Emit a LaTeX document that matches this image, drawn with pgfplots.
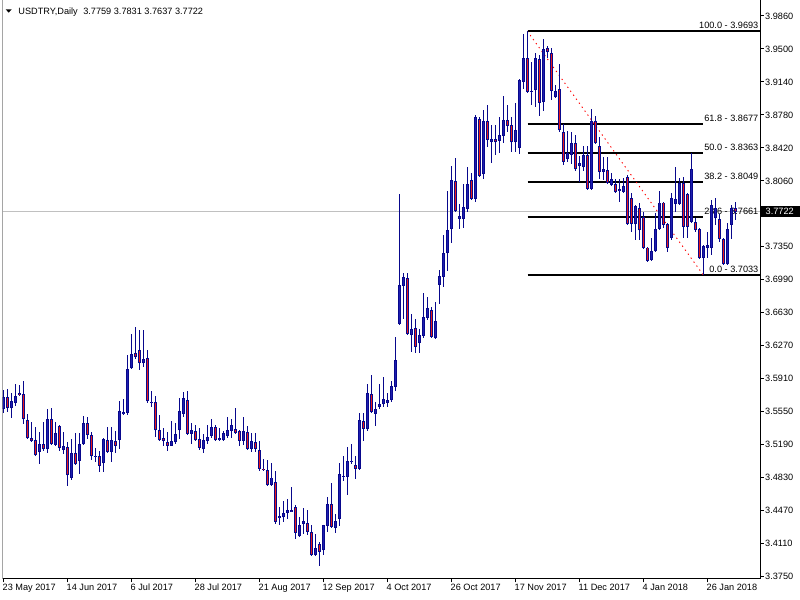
\documentclass[border=0pt]{standalone}
\usepackage{pgfplots}
\pgfplotsset{compat=1.18}
\usepackage{pgfplotstable}
\usepackage{fontspec}
\setmainfont{Liberation Sans}

\definecolor{candleedge}{RGB}{8,8,140}
\definecolor{bullfill}{RGB}{30,30,175}
\definecolor{bearfill}{RGB}{235,25,25}
\definecolor{priceline}{RGB}{192,192,192}

% USDTRY daily bars: index, open, high, low, close
\pgfplotstableread{
i o h l c
0 3.5568 3.5779 3.5525 3.5699
1 3.5699 3.5790 3.5543 3.5579
2 3.5579 3.5743 3.5477 3.5659
3 3.5641 3.5841 3.5604 3.5710
4 3.5746 3.5834 3.5714 3.5725
5 3.5735 3.5877 3.5405 3.5459
6 3.5452 3.5517 3.5245 3.5252
7 3.5255 3.5430 3.5215 3.5219
8 3.5234 3.5379 3.5063 3.5066
9 3.5099 3.5321 3.4975 3.5190
10 3.5190 3.5430 3.5117 3.5132
11 3.5132 3.5575 3.5095 3.5463
12 3.5463 3.5586 3.5179 3.5186
13 3.5179 3.5430 3.5168 3.5306
14 3.5386 3.5394 3.5117 3.5143
15 3.5128 3.5321 3.5085 3.5168
16 3.5157 3.5212 3.4735 3.4848
17 3.4823 3.5248 3.4801 3.5092
18 3.5092 3.5306 3.4965 3.4968
19 3.5001 3.5306 3.4866 3.5190
20 3.5186 3.5495 3.5183 3.5419
21 3.5419 3.5484 3.5241 3.5285
22 3.5285 3.5321 3.5015 3.5055
23 3.5052 3.5146 3.4997 3.5063
24 3.5059 3.5114 3.4885 3.4954
25 3.4979 3.5252 3.4888 3.5245
26 3.5234 3.5379 3.5088 3.5103
27 3.5106 3.5379 3.4997 3.5234
28 3.5223 3.5332 3.5088 3.5165
29 3.5230 3.5663 3.5139 3.5550
30 3.5514 3.5681 3.5510 3.5539
31 3.5532 3.6161 3.5506 3.6008
32 3.6015 3.6390 3.6008 3.6172
33 3.6183 3.6470 3.6117 3.6135
34 3.6215 3.6434 3.5997 3.6070
35 3.6070 3.6434 3.6034 3.6117
36 3.6125 3.6215 3.5634 3.5655
37 3.5634 3.5772 3.5590 3.5648
38 3.5648 3.5717 3.5270 3.5339
39 3.5343 3.5506 3.5226 3.5230
40 3.5255 3.5368 3.5172 3.5219
41 3.5212 3.5317 3.5110 3.5172
42 3.5168 3.5441 3.5165 3.5223
43 3.5208 3.5423 3.5186 3.5299
44 3.5339 3.5692 3.5248 3.5546
45 3.5521 3.5761 3.5488 3.5692
46 3.5670 3.5768 3.5288 3.5303
47 3.5303 3.5415 3.5186 3.5343
48 3.5332 3.5397 3.5223 3.5230
49 3.5244 3.5361 3.5124 3.5150
50 3.5132 3.5295 3.5095 3.5234
51 3.5219 3.5397 3.5190 3.5266
52 3.5281 3.5466 3.5259 3.5372
53 3.5375 3.5397 3.5223 3.5230
54 3.5237 3.5361 3.5226 3.5252
55 3.5230 3.5332 3.5223 3.5306
56 3.5274 3.5481 3.5259 3.5339
57 3.5335 3.5459 3.5255 3.5394
58 3.5354 3.5583 3.5295 3.5306
59 3.5332 3.5343 3.5172 3.5226
60 3.5226 3.5481 3.5179 3.5332
61 3.5321 3.5386 3.5135 3.5139
62 3.5139 3.5306 3.5103 3.5223
63 3.5212 3.5314 3.5106 3.5139
64 3.5124 3.5223 3.4899 3.4921
65 3.4921 3.5026 3.4895 3.4910
66 3.4906 3.5015 3.4728 3.4739
67 3.4739 3.4979 3.4735 3.4823
68 3.4772 3.4895 3.4317 3.4343
69 3.4386 3.4506 3.4306 3.4405
70 3.4390 3.4572 3.4335 3.4434
71 3.4441 3.4590 3.4375 3.4470
72 3.4452 3.4721 3.4444 3.4470
73 3.4503 3.4521 3.4150 3.4223
74 3.4183 3.4397 3.4179 3.4306
75 3.4314 3.4492 3.4212 3.4350
76 3.4328 3.4470 3.4197 3.4234
77 3.4226 3.4306 3.3972 3.3975
78 3.3975 3.4208 3.3972 3.4055
79 3.4099 3.4124 3.3863 3.4015
80 3.4030 3.4310 3.3975 3.4306
81 3.4299 3.4615 3.4230 3.4532
82 3.4532 3.4761 3.4284 3.4288
83 3.4277 3.4423 3.4215 3.4350
84 3.4375 3.4979 3.4299 3.4863
85 3.4834 3.5059 3.4786 3.4841
86 3.4834 3.5154 3.4634 3.5001
87 3.4994 3.5190 3.4972 3.5008
88 3.4961 3.5059 3.4808 3.4921
89 3.4917 3.5524 3.4906 3.5448
90 3.5441 3.5532 3.5226 3.5357
91 3.5357 3.5845 3.5335 3.5746
92 3.5732 3.5943 3.5525 3.5535
93 3.5521 3.5645 3.5390 3.5568
94 3.5597 3.5845 3.5568 3.5626
95 3.5623 3.5925 3.5597 3.5677
96 3.5641 3.5743 3.5597 3.5670
97 3.5666 3.5881 3.5648 3.5819
98 3.5815 3.6357 3.5772 3.6103
99 3.6503 3.7917 3.6485 3.6921
100 3.6917 3.7059 3.6554 3.7008
101 3.6997 3.7059 3.6375 3.6386
102 3.6375 3.6608 3.6197 3.6441
103 3.6452 3.6554 3.6179 3.6245
104 3.6288 3.6445 3.6186 3.6375
105 3.6372 3.6841 3.6343 3.6572
106 3.6568 3.6794 3.6543 3.6670
107 3.6648 3.6688 3.6343 3.6361
108 3.6343 3.6735 3.6339 3.6528
109 3.6925 3.7088 3.6714 3.7023
110 3.7015 3.7470 3.6906 3.7270
111 3.7270 3.7954 3.7081 3.7525
112 3.7532 3.8226 3.7386 3.8066
113 3.8055 3.8314 3.7721 3.7732
114 3.7648 3.7808 3.7532 3.7677
115 3.7648 3.8026 3.7546 3.7772
116 3.7757 3.8212 3.7725 3.8026
117 3.8066 3.8143 3.7863 3.7866
118 3.7866 3.8779 3.7826 3.8757
119 3.8735 3.8761 3.8106 3.8117
120 3.8132 3.8834 3.8085 3.8714
121 3.8714 3.8888 3.8434 3.8503
122 3.8488 3.8666 3.8259 3.8517
123 3.8517 3.8666 3.8346 3.8481
124 3.8499 3.8761 3.8368 3.8561
125 3.8554 3.8986 3.8477 3.8725
126 3.8725 3.8888 3.8597 3.8663
127 3.8666 3.8761 3.8372 3.8481
128 3.8481 3.8906 3.8372 3.8615
129 3.8423 3.9172 3.8354 3.9161
130 3.9143 3.9663 3.9063 3.9397
131 3.9397 3.9693 3.9015 3.9034
132 3.9034 3.9361 3.8888 3.9041
133 3.9048 3.9452 3.8870 3.9397
134 3.9386 3.9434 3.8768 3.8914
135 3.8917 3.9608 3.8823 3.9499
136 3.9506 3.9535 3.9397 3.9463
137 3.9455 3.9506 3.8943 3.9041
138 3.8972 3.9106 3.8961 3.9041
139 3.9059 3.9332 3.8597 3.8612
140 3.8597 3.8685 3.8234 3.8270
141 3.8295 3.8605 3.8270 3.8361
142 3.8343 3.8597 3.8245 3.8470
143 3.8470 3.8561 3.8168 3.8186
144 3.8219 3.8335 3.8052 3.8252
145 3.8208 3.8444 3.8172 3.8343
146 3.8343 3.8441 3.7957 3.7972
147 3.7972 3.8845 3.7961 3.8717
148 3.8717 3.8772 3.8459 3.8470
149 3.8441 3.8535 3.8077 3.8161
150 3.8161 3.8321 3.8066 3.8190
151 3.8179 3.8321 3.8023 3.8034
152 3.8012 3.8143 3.8005 3.8077
153 3.8023 3.8081 3.7928 3.7935
154 3.7950 3.8081 3.7834 3.7968
155 3.7943 3.8088 3.7925 3.8001
156 3.8106 3.8125 3.7579 3.7586
157 3.7877 3.7925 3.7506 3.7586
158 3.7586 3.7797 3.7415 3.7786
159 3.7768 3.7815 3.7415 3.7521
160 3.7670 3.7725 3.7325 3.7332
161 3.7332 3.7343 3.7179 3.7186
162 3.7194 3.7434 3.7190 3.7292
163 3.7292 3.7706 3.7288 3.7535
164 3.7535 3.7950 3.7524 3.7823
165 3.7823 3.7834 3.7550 3.7579
166 3.7586 3.7597 3.7288 3.7325
167 3.7434 3.7925 3.7415 3.7870
168 3.7805 3.8215 3.7725 3.7859
169 3.7805 3.8088 3.7797 3.8034
170 3.8034 3.8106 3.7434 3.7561
171 3.7914 3.7925 3.7434 3.7561
172 3.7615 3.8361 3.7601 3.8186
173 3.7615 3.7652 3.7506 3.7525
174 3.7535 3.7543 3.7208 3.7215
175 3.7223 3.7361 3.7033 3.7350
176 3.7332 3.7506 3.7215 3.7361
177 3.7332 3.7852 3.7252 3.7797
178 3.7652 3.7870 3.7579 3.7761
179 3.7645 3.7695 3.7397 3.7426
180 3.7426 3.7434 3.7143 3.7150
181 3.7150 3.7597 3.7143 3.7535
182 3.7579 3.7800 3.7430 3.7761
183 3.7759 3.7831 3.7637 3.7722
}\usdtry

\newcommand{\chartfont}{\fontsize{9.2}{11}\selectfont}

\begin{document}
\begin{tikzpicture}[x=1bp,y=1bp]
\begin{axis}[
  name=main, anchor=south west,
  scale only axis, width=757.5bp, height=579bp,
  xmin=-0.2, xmax=189.175, ymin=3.37172, ymax=4.00336,
  axis x line*=bottom, axis y line*=right,
  axis line style={line width=1bp, black},
  tick align=outside, major tick length=3.5bp,
  tick style={black, line width=0.8bp},
  xtick={0,16,...,176},
  xticklabels={23 May 2017,14 Jun 2017,6 Jul 2017,28 Jul 2017,21 Aug 2017,12 Sep 2017,4 Oct 2017,26 Oct 2017,17 Nov 2017,11 Dec 2017,4 Jan 2018,26 Jan 2018},
  xticklabel style={anchor=north west, inner sep=0pt, xshift=-0.8bp, yshift=-1bp, font=\chartfont},
  ytick={3.3750,3.4110,3.4470,3.4830,3.5190,3.5550,3.5910,3.6270,3.6630,3.6990,3.7350,3.8060,3.8420,3.8780,3.9140,3.9500,3.9860},
  yticklabel={\pgfmathprintnumber[fixed,fixed zerofill,precision=4,assume math mode=true]{\tick}},
  yticklabel style={anchor=west, inner sep=0pt, xshift=1.5bp, font=\chartfont},
  clip=true,
]
% current bid line
\addplot[priceline, line width=1bp, forget plot] coordinates {(-0.2,3.7722) (189.175,3.7722)};

% Fibonacci retracement from the 3.9693 high to the 3.7033 low
\addplot[black, line width=2bp] coordinates {(131.05,3.9693) (189.175,3.9693)};
\addplot[black, line width=2bp] coordinates {(131.05,3.8677) (174.95,3.8677)};
\addplot[black, line width=2bp] coordinates {(131.05,3.8363) (174.95,3.8363)};
\addplot[black, line width=2bp] coordinates {(131.05,3.8049) (174.95,3.8049)};
\addplot[black, line width=2bp] coordinates {(131.05,3.7661) (174.95,3.7661)};
\addplot[black, line width=2bp] coordinates {(131.05,3.7033) (189.175,3.7033)};
\addplot[red, line width=0.9bp, dash pattern=on 1.3bp off 3.6bp] coordinates {(131,3.9693) (175,3.7033)};
\begin{scope}[every node/.style={anchor=south east, inner sep=0pt, yshift=2.2bp, font=\chartfont}]
\node at (axis cs:188.8,3.9693) {100.0 - 3.9693};
\node at (axis cs:188.8,3.8677) {61.8 - 3.8677};
\node at (axis cs:188.8,3.8363) {50.0 - 3.8363};
\node at (axis cs:188.8,3.8049) {38.2 - 3.8049};
\node at (axis cs:188.8,3.7661) {23.6 - 3.7661};
\node at (axis cs:188.8,3.7033) {0.0 - 3.7033};
\end{scope}

% wicks
\addplot[draw=none, mark=none, error bars/.cd, y dir=both, y explicit, error mark=none,
  error bar style={draw=candleedge, line width=1bp, solid}]
  table[x=i, y=c, y error plus expr=\thisrow{h}-\thisrow{c}, y error minus expr=\thisrow{c}-\thisrow{l}] {\usdtry};
% bodies
\addplot[draw=none, mark=none, error bars/.cd, y dir=plus, y explicit, error mark=none,
  error bar style={draw=candleedge, line width=3.3bp, solid}]
  table[x=i, y expr={min(\thisrow{o},\thisrow{c})}, y error plus expr={abs(\thisrow{c}-\thisrow{o})}] {\usdtry};
% rising bars
\addplot[draw=none, mark=none, error bars/.cd, y dir=plus, y explicit, error mark=none,
  error bar style={draw=bullfill, line width=1.3bp, solid, shorten <=0.9bp, shorten >=0.9bp}]
  table[x=i, y expr={ifthenelse(\thisrow{c}>=\thisrow{o},\thisrow{o},0)}, y error plus expr={\thisrow{c}-\thisrow{o}}] {\usdtry};
% falling bars
\addplot[draw=none, mark=none, error bars/.cd, y dir=plus, y explicit, error mark=none,
  error bar style={draw=bearfill, line width=1.3bp, solid, shorten <=0.9bp, shorten >=0.9bp}]
  table[x=i, y expr={ifthenelse(\thisrow{c}<\thisrow{o},\thisrow{c},0)}, y error plus expr={\thisrow{o}-\thisrow{c}}] {\usdtry};

\draw[black, line width=1bp] (rel axis cs:0,0) -- (rel axis cs:0,1);
\end{axis}

% page frame: 800 x 600, plot box starts 2.5 in from the left and 21 up from the bottom
\coordinate (O) at ([shift={(-2.5,-21)}]main.south west);
\pgfresetboundingbox
\path[use as bounding box] (O) rectangle ++(800,600);

\begin{scope}[shift={(O)}]
% bid price tag on the scale
\fill[black] (760,383.3) rectangle (800,394.3);
\node[anchor=west, inner sep=0pt, text=white, font=\chartfont] at (765.5,388.8) {3.7722};
% symbol header
\fill[black] (5.7,590.7) -- (11.7,590.7) -- (8.7,587.3) -- cycle;
\node[anchor=base west, inner sep=0pt, font=\chartfont] at (18.3,585) {USDTRY,Daily\hspace{3bp} 3.7759 3.7831 3.7637 3.7722};
\end{scope}
\end{tikzpicture}
\end{document}
